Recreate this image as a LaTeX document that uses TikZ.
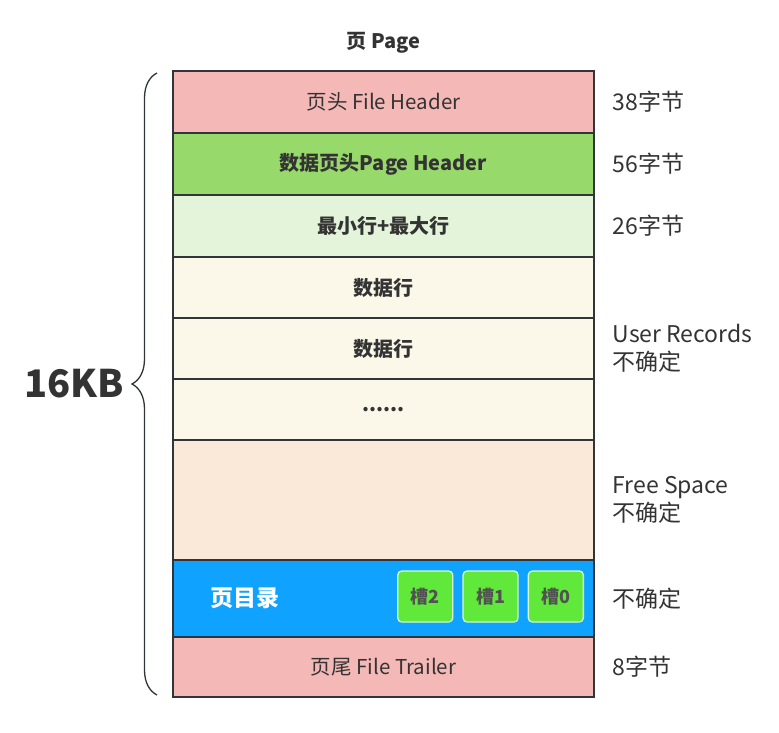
\documentclass[tikz,border=0pt]{standalone}
\usepackage{fontspec}
\setmainfont{Noto Sans CJK SC}
\usetikzlibrary{positioning,decorations.pathreplacing}
\definecolor{fhdr}{HTML}{F4B8B6}
\definecolor{phdr}{HTML}{97D96A}
\definecolor{minmax}{HTML}{E3F4DA}
\definecolor{rec}{HTML}{FBF7E9}
\definecolor{free}{HTML}{FAE8D8}
\definecolor{dir}{HTML}{0FA3FF}
\definecolor{slot}{HTML}{60E83A}
\definecolor{ln}{HTML}{2F3538}
\definecolor{txt}{HTML}{333333}
\tikzset{
  row/.style={rectangle, draw=ln, line width=1.5pt, minimum width=421pt, inner sep=0pt, outer sep=0pt,
              text=txt, font=\fontsize{20.5}{24}\selectfont},
  rowb/.style={row, font=\fontsize{20}{24}\selectfont\bfseries},
  sz/.style={anchor=west, align=left, text=txt, font=\fontsize{23}{28}\selectfont},
  slotbox/.style={rectangle, rounded corners=4pt, draw=white!75!slot, line width=1.3pt, fill=slot,
                  minimum width=55pt, minimum height=51pt, inner sep=0pt, text=txt!85,
                  font=\fontsize{18}{21}\selectfont\bfseries},
  ttl/.style={text=txt, font=\fontsize{20}{24}\selectfont\bfseries},
}

\begin{document}
\begin{tikzpicture}[x=1pt, y=-1pt]
\useasboundingbox (0,0) rectangle (779,733);

% ---------------- page rows ----------------
\node[row, fill=fhdr, minimum height=62pt] (fh) at (383.5,102) {页头 File Header};
\node[rowb, fill=phdr, minimum height=62pt, below=0pt of fh] (ph) {数据页头Page Header};
\node[rowb, fill=minmax, minimum height=62pt, below=0pt of ph] (mm) {最小行+最大行};
\node[rowb, fill=rec, minimum height=61pt, below=0pt of mm] (r1) {数据行};
\node[rowb, fill=rec, minimum height=61pt, below=0pt of r1] (r2) {数据行};
\node[rowb, fill=rec, minimum height=61pt, below=0pt of r2] (r3) {......};
\node[row, fill=free, minimum height=120pt, below=0pt of r3] (fs) {};
\node[row, fill=dir, minimum height=77pt, below=0pt of fs] (dir) {};
\node[row, fill=fhdr, minimum height=60pt, below=0pt of dir] (ft) {页尾 File Trailer};

% page directory with its slots
\node[anchor=west, text=white, font=\fontsize{23}{27}\selectfont\bfseries, right=34pt of dir.west] (dirl) {页目录};
\node[slotbox, left=10pt of dir.east, yshift=2pt] (s0) {槽0};
\node[slotbox, left=9pt of s0] (s1) {槽1};
\node[slotbox, left=9pt of s1] (s2) {槽2};

\node[ttl, above=14pt of fh] (title) {页 Page};

% ---------------- sizes ----------------
\node[sz, right=15pt of fh] (szfh) {38字节};
\node[sz, right=15pt of ph] (szph) {56字节};
\node[sz, right=15pt of mm] (szmm) {26字节};
\node[sz, right=15pt of r2] (szrec) {User Records\\不确定};
\node[sz, right=15pt of fs] (szfs) {Free Space\\不确定};
\node[sz, right=15pt of dir] (szdir) {不确定};
\node[sz, right=15pt of ft] (szft) {8字节};

% ---------------- 16KB brace ----------------
\coordinate (bt) at (157,73);
\coordinate (bb) at (157,695);
\draw[ln, line width=1.3pt, decorate, decoration={brace, amplitude=25pt}] (bb) -- (bt);
\node[text=txt, font=\fontsize{38}{44}\selectfont\bfseries] (kb) at (74,384) {16KB};
\end{tikzpicture}
\end{document}
